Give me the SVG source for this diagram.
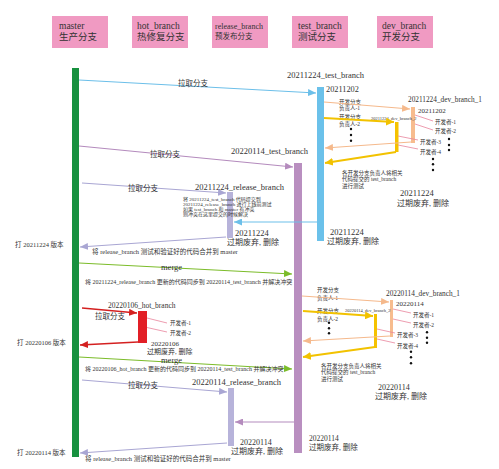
<svg xmlns="http://www.w3.org/2000/svg" width="499" height="469" viewBox="0 0 499 469">
<defs>
<style>
text{font-family:"Liberation Serif","Noto Sans CJK SC",serif;fill:#333}
.hd{fill:#f09ac2}
.c{fill:none;stroke-width:1.2}
.s55{font-size:5.5px}
.s5{font-size:5px}
.s65{font-size:6.5px}
.s6{font-size:6px}
.s7{font-size:7px}
.s75{font-size:7.5px}
.s85{font-size:8.5px}
.s95{font-size:9.5px}
</style>
<marker id="aBlue" markerUnits="userSpaceOnUse" markerWidth="9" markerHeight="7" refX="8" refY="3.5" orient="auto"><path d="M0,0 L8,3.5 L0,7 z" fill="#6cbfe9"/></marker>
<marker id="aPur" markerUnits="userSpaceOnUse" markerWidth="9" markerHeight="7" refX="8" refY="3.5" orient="auto"><path d="M0,0 L8,3.5 L0,7 z" fill="#b48bbd"/></marker>
<marker id="aLav" markerUnits="userSpaceOnUse" markerWidth="9" markerHeight="7" refX="8" refY="3.5" orient="auto"><path d="M0,0 L8,3.5 L0,7 z" fill="#a9a6d3"/></marker>
<marker id="aGrn" markerUnits="userSpaceOnUse" markerWidth="9" markerHeight="7" refX="8" refY="3.5" orient="auto"><path d="M0,0 L8,3.5 L0,7 z" fill="#7cbc2a"/></marker>
<marker id="aRed" markerUnits="userSpaceOnUse" markerWidth="9" markerHeight="7" refX="8" refY="3.5" orient="auto"><path d="M0,0 L8,3.5 L0,7 z" fill="#d42020"/></marker>
<marker id="aPch" markerUnits="userSpaceOnUse" markerWidth="9" markerHeight="7" refX="8" refY="3.5" orient="auto"><path d="M0,0 L8,3.5 L0,7 z" fill="#f5b98c"/></marker>
<marker id="aYel" markerUnits="userSpaceOnUse" markerWidth="9" markerHeight="8" refX="8" refY="4" orient="auto"><path d="M0,0 L8,4 L0,8 z" fill="#f2c200"/></marker>
</defs>
<rect width="499" height="469" fill="#fff"/>

<g id="headers">
<g id="h-master"><rect class="hd" x="52" y="16" width="56" height="32"/><text class="s95" x="59" y="29">master</text><text class="s95" x="59" y="40">生产分支</text></g>
<g id="h-hot"><rect class="hd" x="132" y="16" width="56" height="32"/><text class="s95" x="137" y="29">hot_branch</text><text class="s95" x="137" y="40">热修复分支</text></g>
<g id="h-release"><rect class="hd" x="212" y="16" width="56" height="32"/><text style="font-size:8px" x="215" y="29">release_branch</text><text class="s75" x="215" y="38.5">预发布分支</text></g>
<g id="h-test"><rect class="hd" x="292" y="16" width="56" height="32"/><text class="s95" x="298" y="29">test_branch</text><text class="s95" x="298" y="40">测试分支</text></g>
<g id="h-dev"><rect class="hd" x="377" y="16" width="56" height="32"/><text class="s95" x="382" y="29">dev_branch</text><text class="s95" x="382" y="40">开发分支</text></g>
</g>

<g id="master">
<rect x="72" y="68" width="7" height="389" fill="#17913f"/>
<text class="s65" x="15" y="246.5">打 20211224 版本</text>
<text class="s65" x="17" y="345">打 20220106 版本</text>
<text class="s65" x="17" y="454.5">打 20220114 版本</text>
</g>

<g id="test-20211224">
<rect x="317" y="87" width="7" height="154" fill="#6bc1ea"/>
<text class="s85" x="287" y="78">20211224_test_branch</text>
<text style="font-size:8.3px" x="326" y="92">20211202</text>
<text class="s85" x="330" y="234.5">20211224</text>
<text style="font-size:8px" x="327" y="244">过期废弃, 删除</text>
</g>

<g id="test-20220114">
<rect x="294" y="163" width="8" height="290" fill="#b98fc0"/>
<text class="s85" x="231" y="153.5">20220114_test_branch</text>
<text class="s75" x="309" y="441">20220114</text>
<text class="s75" x="309" y="450">过期废弃, 删除</text>
</g>

<g id="release-20211224">
<rect x="227" y="192" width="6" height="46" fill="#b7b3da"/>
<text class="s85" x="195" y="190">20211224_release_branch</text>
<text class="s5" x="183" y="201">将 20211224_test_branch 代码提交到</text>
<text class="s5" x="183" y="206">20211224_release_branch 进行上线前测试</text>
<text class="s5" x="183" y="211">如果 test_branch 和 master 有冲突</text>
<text class="s5" x="183" y="216">则冲突在这里提交的时候解决</text>
<text class="s85" x="235" y="236">20211224</text>
<text style="font-size:8px" x="227" y="244.5">过期废弃, 删除</text>
</g>

<g id="hot-20220106">
<rect x="138" y="311" width="9" height="32" fill="#e21f26"/>
<text class="s75" x="108" y="307.5">20220106_hot_branch</text>
<text class="s55" x="170" y="325">开发者-1</text>
<text class="s55" x="170" y="335">开发者-2</text>
<text class="s7" x="151" y="346">20220106</text>
<text class="s7" x="147" y="353.5">过期废弃, 删除</text>
</g>

<g id="release-20220114">
<rect x="228" y="388" width="6" height="58" fill="#b7b3da"/>
<text class="s85" x="192" y="384.5">20220114_release_branch</text>
<text style="font-size:8px" x="240" y="445">20220114</text>
<text style="font-size:8px" x="231" y="454">过期废弃, 删除</text>
</g>

<g id="dev-20211224">
<rect x="411" y="107" width="4" height="36" fill="#f7bc8e"/>
<rect x="395" y="122" width="3.5" height="30" fill="#f5c200"/>
<text class="s55" x="339" y="103.5">开发分支</text>
<text class="s55" x="339" y="110">负责人-1</text>
<text class="s55" x="339" y="119">开发分支</text>
<text class="s55" x="339" y="126">负责人-2</text>
<text style="font-size:7.3px" x="408" y="101.5">20211224_dev_branch_1</text>
<text class="s7" x="418" y="112.5">20211202</text>
<text style="font-size:4.5px" x="371" y="119.5">20211224_dev_branch_2</text>
<text class="s55" x="435" y="123.5">开发者-1</text>
<text class="s55" x="435" y="133">开发者-2</text>
<text class="s55" x="420" y="143.5">开发者-3</text>
<text class="s55" x="420" y="153.5">开发者-4</text>
<g fill="#111"><circle cx="351" cy="129" r="1.2"/><circle cx="351" cy="135" r="1.2"/><circle cx="351" cy="140.7" r="1.2"/><circle cx="449" cy="139" r="1.2"/><circle cx="449" cy="145" r="1.2"/><circle cx="449" cy="150" r="1.2"/><circle cx="433" cy="159" r="1.2"/><circle cx="433" cy="164.3" r="1.2"/><circle cx="433" cy="170" r="1.2"/></g>
<text class="s55" x="342" y="175">各开发分支负责人将相关</text>
<text class="s55" x="342" y="181">代码提交的 test_branch</text>
<text class="s55" x="342" y="187.5">进行测试</text>
<text class="s85" x="400" y="196">20211224</text>
<text style="font-size:8px" x="397" y="206">过期废弃, 删除</text>
</g>

<g id="dev-20220114">
<rect x="390" y="300" width="3" height="37" fill="#f7bc8e"/>
<rect x="374" y="314" width="3" height="34" fill="#f5c200"/>
<text class="s55" x="317" y="292">开发分支</text>
<text class="s55" x="317" y="300">负责人-1</text>
<text class="s55" x="317" y="313">开发分支</text>
<text class="s55" x="317" y="320.5">负责人-2</text>
<text style="font-size:7.3px" x="386" y="295.5">20220114_dev_branch_1</text>
<text class="s7" x="396" y="305.5">20220114</text>
<text style="font-size:4.5px" x="345" y="312">20220114_dev_branch_2</text>
<text class="s55" x="413" y="317">开发者-1</text>
<text class="s55" x="413" y="327">开发者-2</text>
<text class="s55" x="397" y="337">开发者-3</text>
<text class="s55" x="397" y="348">开发者-4</text>
<g fill="#111"><circle cx="329" cy="322.7" r="1.2"/><circle cx="329" cy="328.3" r="1.2"/><circle cx="329" cy="333.3" r="1.2"/><circle cx="427" cy="332.3" r="1.2"/><circle cx="427" cy="337.7" r="1.2"/><circle cx="427" cy="342.7" r="1.2"/><circle cx="411" cy="351.7" r="1.2"/><circle cx="411" cy="357.3" r="1.2"/><circle cx="411" cy="363.3" r="1.2"/></g>
<text class="s55" x="321" y="367.5">各开发分支负责人将相关</text>
<text class="s55" x="321" y="374">代码提交的 test_branch</text>
<text class="s55" x="321" y="381">进行测试</text>
<text style="font-size:8px" x="378" y="390">20220114</text>
<text style="font-size:8px" x="375" y="399">过期废弃, 删除</text>
</g>

<g id="connectors">
<path class="c" d="M79,80 L316,93" stroke="#6cbfe9" marker-end="url(#aBlue)"/>
<text class="s75" x="178" y="85.5">拉取分支</text>
<path class="c" d="M79,146 L293,167" stroke="#b48bbd" marker-end="url(#aPur)"/>
<text class="s75" x="150" y="157">拉取分支</text>
<path class="c" d="M82,183 L226,193" stroke="#a9a6d3" marker-end="url(#aLav)"/>
<text class="s75" x="128" y="191">拉取分支</text>
<path class="c" d="M317,222 L234,222" stroke="#6cbfe9" marker-end="url(#aBlue)"/>
<path class="c" d="M226,237 L80,247" stroke="#a9a6d3" marker-end="url(#aLav)"/>
<text class="s65" x="92" y="254">将 release_branch 测试和验证好的代码合并到 master</text>
<path class="c" d="M79,263 L292,274" stroke="#7cbc2a" marker-end="url(#aGrn)"/>
<text class="s85" x="161" y="270">merge</text>
<text class="s6" x="85" y="283.5">将 20211224_release_branch 更新的代码同步到 20220114_test_branch 并解决冲突</text>
<path d="M82,308 L137,313" fill="none" stroke="#d42020" stroke-width="1.5" marker-end="url(#aRed)"/>
<text class="s75" x="95" y="318.5">拉取分支</text>
<path d="M138,342 L80,345" fill="none" stroke="#d42020" stroke-width="1.5" marker-end="url(#aRed)"/>
<g stroke="#e8849c" stroke-width="0.8" fill="none">
<path d="M147,318 L167,323"/><path d="M147,327.5 L167,332"/>
<path d="M415,115 L433,121"/><path d="M415,124 L433,130"/><path d="M398,136 L418,140"/><path d="M398,145 L418,149"/>
<path d="M393,309 L411,313"/><path d="M393,319 L411,323"/><path d="M377,329 L395,333"/><path d="M377,339 L395,343"/>
</g>
<path class="c" d="M79,357 L292,369" stroke="#7cbc2a" marker-end="url(#aGrn)"/>
<text class="s85" x="161" y="363">merge</text>
<text class="s6" x="85" y="370.5">将 20220106_hot_branch 更新的代码同步到 20220114_test_branch 并解决冲突</text>
<path class="c" d="M82,380 L227,392" stroke="#a9a6d3" marker-end="url(#aLav)"/>
<text class="s75" x="128" y="388">拉取分支</text>
<path class="c" d="M294,422 L235,422" stroke="#b48bbd" marker-end="url(#aPur)"/>
<path class="c" d="M227,443 L80,453" stroke="#a9a6d3" marker-end="url(#aLav)"/>
<text class="s65" x="85" y="461">将 release_branch 测试和验证好的代码合并到 master</text>
<path class="c" d="M324,102 L410,109" stroke="#f5b98c" marker-end="url(#aPch)"/>
<path d="M324,118 L394,122" fill="none" stroke="#f2c200" stroke-width="2" marker-end="url(#aYel)"/>
<path class="c" d="M411,142 L325,148" stroke="#f5b98c" marker-end="url(#aPch)"/>
<path d="M396,152 L325,163" fill="none" stroke="#f2c200" stroke-width="2" marker-end="url(#aYel)"/>
<path class="c" d="M302,296 L389,302" stroke="#f5b98c" marker-end="url(#aPch)"/>
<path d="M303,311 L373,316" fill="none" stroke="#f2c200" stroke-width="2" marker-end="url(#aYel)"/>
<path class="c" d="M390,336 L303,341" stroke="#f5b98c" marker-end="url(#aPch)"/>
<path d="M375,347 L303,357" fill="none" stroke="#f2c200" stroke-width="2" marker-end="url(#aYel)"/>
</g>
</svg>
